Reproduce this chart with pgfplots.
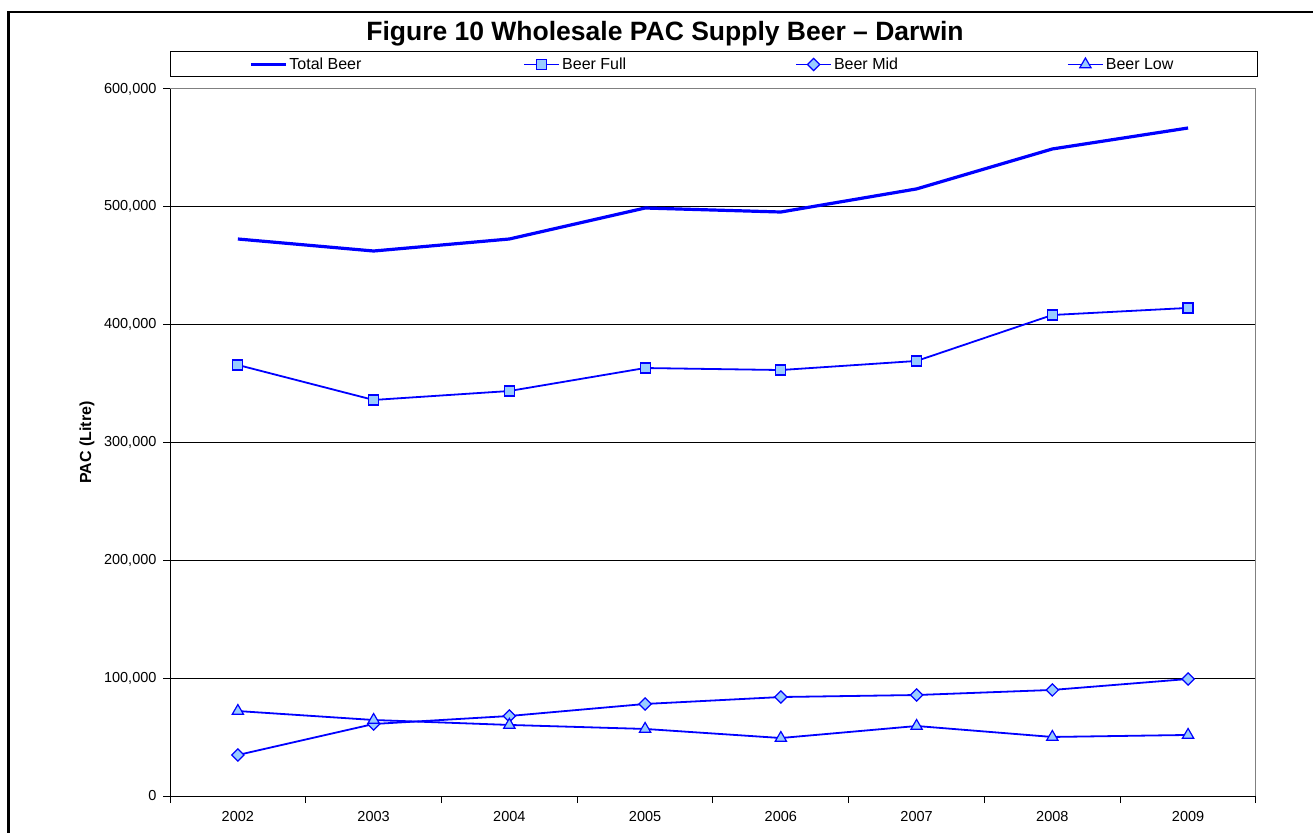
\documentclass[border=0pt]{standalone}
\usepackage{pgfplots}
\pgfplotsset{compat=1.18}
\usepackage{fontspec}
\setmainfont{Liberation Sans}
\definecolor{lineblue}{RGB}{0,0,255}
\definecolor{markfill}{RGB}{153,204,255}

\begin{document}
\begin{tikzpicture}[x=1pt,y=1pt]
\useasboundingbox (0,0) rectangle (1313,832);
\draw[line width=2.5pt] (8.5,-20) rectangle (1340,820);
\node[font=\fontsize{26.5}{30}\selectfont\bfseries, anchor=base] at (665,791) {Figure 10 Wholesale PAC Supply Beer -- Darwin};
\draw[line width=1pt] (170,755) rectangle (1257,780);
\begin{axis}[
  at={(170pt,36pt)}, anchor=south west,
  scale only axis, width=1086pt, height=707pt,
  xmin=-0.5, xmax=7.5, ymin=0, ymax=600000,
  xtick={0,...,7}, xticklabels={2002,2003,2004,2005,2006,2007,2008,2009},
  minor xtick={-0.5,0.5,...,7.5},
  major x tick style={draw=none},
  minor x tick style={black, line width=1pt},
  minor tick length=7pt, major tick length=7pt,
  tick align=outside, xtick pos=bottom, ytick pos=left,
  ytick={0,100000,...,600000},
  scaled y ticks=false,
  yticklabel style={xshift=-3pt, /pgf/number format/fixed, /pgf/number format/1000 sep={,}},
  /pgf/number format/assume math mode=true,
  tick label style={font=\fontsize{14.5}{16}\selectfont},
  xticklabel style={yshift=-5pt},
  y tick style={black, line width=1pt},
  ymajorgrids, grid style={black, line width=1pt},
  axis line style={gray, line width=1pt},
  ylabel={PAC (Litre)},
  ylabel style={font=\fontsize{16}{18}\selectfont\bfseries, at={(axis description cs:-0.0764,0.5)}, anchor=center},
  legend columns=4,
  legend cell align=left,
  legend style={draw=none, fill=none, at={(rel axis cs:0.070,1.0347)}, anchor=west, font=\fontsize{16}{18}\selectfont},
  legend image code/.code={\draw[mark repeat=2,mark phase=2,#1] plot coordinates {(0pt,0pt) (17.5pt,0pt) (35pt,0pt)};},
  every axis plot/.append style={lineblue},
]
\draw[black, line width=1pt] (rel axis cs:0,0) -- (rel axis cs:0,1);
\draw[black, line width=1pt] (rel axis cs:0,0) -- (rel axis cs:1,0);

\addplot[lineblue, line width=3.2pt, no marks] coordinates {
 (0,472700) (1,462500) (2,472700) (3,499000) (4,495600) (5,515200) (6,549100) (7,566900)};
\addlegendentry{\makebox[232pt][l]{Total Beer}}

\addplot[lineblue, line width=1.8pt, mark=square*, mark size=5pt, mark options={fill=markfill, draw=lineblue, line width=1.2pt}] coordinates {
 (0,365800) (1,336100) (2,343700) (3,363200) (4,361500) (5,369200) (6,408200) (7,414200)};
\addlegendentry{\makebox[231pt][l]{Beer Full}}

\addplot[lineblue, line width=1.8pt, mark=square*, mark size=4.3pt, mark options={fill=markfill, draw=lineblue, line width=1.2pt, rotate=45}] coordinates {
 (0,34800) (1,61100) (2,67900) (3,78100) (4,84000) (5,85700) (6,90000) (7,99300)};
\addlegendentry{\makebox[231pt][l]{Beer Mid}}

\addplot[lineblue, line width=1.8pt, mark=triangle*, mark size=6.5pt, mark options={fill=markfill, draw=lineblue, line width=1.2pt}] coordinates {
 (0,72100) (1,64500) (2,60300) (3,56900) (4,49200) (5,59400) (6,50100) (7,51800)};
\addlegendentry{Beer Low}
\end{axis}
\end{tikzpicture}
\end{document}
